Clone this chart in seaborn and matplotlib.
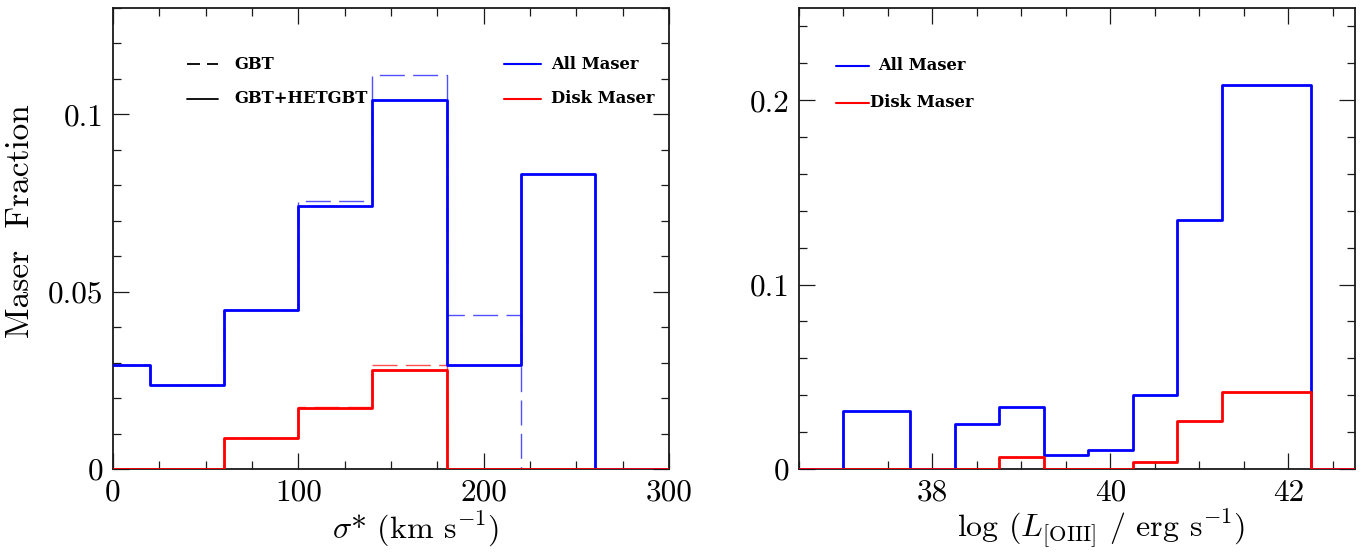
import numpy as np
import pandas as pd
import matplotlib
matplotlib.use("Agg")
import matplotlib.pyplot as plt
import seaborn as sns
from matplotlib.ticker import MultipleLocator, FuncFormatter

sns.set_theme(style="ticks")
plt.rcParams["font.family"] = ["cmr10", "DejaVu Serif"]
plt.rcParams["mathtext.fontset"] = "cm"
plt.rcParams["axes.formatter.use_mathtext"] = True

blue = "#0000ff"
red = "#ff0000"
blue_light = "#5050ff"
red_light = "#ff5050"
frame = "#1a1a1a"

# left panel: maser fraction vs stellar velocity dispersion (km/s)
sigma_edges = [-20, 20, 60, 100, 140, 180, 220, 260, 300]
sigma_all_gbt = [0.0293, 0.0236, 0.0447, 0.0757, 0.1110, 0.0433, 0.0, 0.0]
sigma_all_comb = [0.0293, 0.0236, 0.0447, 0.0742, 0.1041, 0.0293, 0.0833, 0.0]
sigma_disk_gbt = [0.0, 0.0, 0.0088, 0.0174, 0.0294, 0.0, 0.0, 0.0]
sigma_disk_comb = [0.0, 0.0, 0.0088, 0.0172, 0.0278, 0.0, 0.0, 0.0]

# right panel: maser fraction vs log L[OIII]
lum_edges = [36.5, 37.0, 37.75, 38.25, 38.75, 39.25, 39.75, 40.25, 40.75, 41.25, 42.25, 42.75]
lum_all = [0.0, 0.0314, 0.0, 0.0245, 0.0335, 0.0077, 0.0103, 0.0404, 0.1352, 0.2082, 0.0]
lum_disk = [0.0, 0.0, 0.0, 0.0, 0.0067, 0.0, 0.0, 0.0038, 0.0259, 0.0418, 0.0]


def step_hist(ax, edges, values, color, lw, ls="-", zorder=2):
    e = np.asarray(edges, dtype=float)
    centers = (e[:-1] + e[1:]) / 2
    df = pd.DataFrame({"x": centers, "w": values})
    sns.histplot(data=df, x="x", weights="w", bins=list(edges), element="step",
                 fill=False, color=color, linewidth=lw, linestyle=ls,
                 zorder=zorder, ax=ax)


def style_axes(ax):
    for sp in ax.spines.values():
        sp.set_color(frame)
        sp.set_linewidth(1.3)
    ax.tick_params(which="both", direction="in", top=True, right=True,
                   color=frame, labelsize=22.5, labelcolor="black")
    ax.tick_params(which="major", length=11.5, width=0.9, pad=7)
    ax.tick_params(which="minor", length=5.8, width=0.9)
    ax.yaxis.set_major_formatter(FuncFormatter(lambda v, p: "%g" % v))
    ax.xaxis.set_major_formatter(FuncFormatter(lambda v, p: "%g" % v))


fig = plt.figure(figsize=(13.72, 5.52), dpi=100)
ax1 = fig.add_axes([113 / 1372, 83 / 552, 556 / 1372, 461 / 552])
ax2 = fig.add_axes([799 / 1372, 83 / 552, 556 / 1372, 461 / 552])

dash_long = (0, (18, 6))

# left panel
step_hist(ax1, sigma_edges, sigma_all_gbt, blue_light, 1.0, dash_long, zorder=2)
step_hist(ax1, sigma_edges, sigma_disk_gbt, red_light, 1.0, dash_long, zorder=2)
step_hist(ax1, sigma_edges, sigma_all_comb, blue, 2.0, zorder=3)
step_hist(ax1, sigma_edges, sigma_disk_comb, red, 2.0, zorder=4)

ax1.set_xlim(0, 300)
ax1.set_ylim(0, 0.13)
ax1.xaxis.set_major_locator(MultipleLocator(100))
ax1.xaxis.set_minor_locator(MultipleLocator(25))
ax1.yaxis.set_major_locator(MultipleLocator(0.05))
ax1.yaxis.set_minor_locator(MultipleLocator(0.01))
style_axes(ax1)
ax1.set_xlabel(r"$\sigma$* (km s$^{-1}$)", fontsize=23, color="black")
ax1.set_ylabel("Maser  Fraction", fontsize=24, color="black")
ax1.xaxis.set_label_coords(0.545, -0.132)
ax1.xaxis.label.set_va("center")
ax1.yaxis.set_label_coords(-0.166, 0.538)
ax1.yaxis.label.set_va("center")

leg_font = dict(fontsize=11.8, fontweight="bold", family="DejaVu Serif",
                color="black", va="center", ha="left", transform=ax1.transAxes)
ax1.plot([0.133, 0.189], [0.8785, 0.8785], color="black", lw=1.3,
         ls=(0, (7.2, 3.9)), transform=ax1.transAxes)
ax1.text(0.219, 0.8785, "GBT", **leg_font)
ax1.plot([0.133, 0.189], [0.8035, 0.8035], color="black", lw=1.3,
         transform=ax1.transAxes)
ax1.text(0.219, 0.8035, "GBT+HETGBT", **leg_font)
ax1.plot([0.703, 0.770], [0.8785, 0.8785], color=blue, lw=1.5,
         transform=ax1.transAxes)
ax1.text(0.788, 0.8785, "All Maser", **leg_font)
ax1.plot([0.703, 0.770], [0.8035, 0.8035], color=red, lw=1.5,
         transform=ax1.transAxes)
ax1.text(0.788, 0.8035, "Disk Maser", **leg_font)

# right panel
step_hist(ax2, lum_edges, lum_all, blue, 2.0, zorder=3)
step_hist(ax2, lum_edges, lum_disk, red, 2.0, zorder=4)

ax2.set_xlim(36.5, 42.75)
ax2.set_ylim(0, 0.25)
ax2.xaxis.set_major_locator(MultipleLocator(2))
ax2.xaxis.set_minor_locator(MultipleLocator(0.5))
ax2.yaxis.set_major_locator(MultipleLocator(0.1))
ax2.yaxis.set_minor_locator(MultipleLocator(0.02))
style_axes(ax2)
ax2.set_ylabel("")
ax2.set_xlabel(r"log ($L_{\rm [OIII]}$ / erg s$^{-1}$)", fontsize=23, color="black")
ax2.xaxis.set_label_coords(0.543, -0.132)
ax2.xaxis.label.set_va("center")

leg_font2 = dict(leg_font, transform=ax2.transAxes)
ax2.plot([0.0665, 0.126], [0.875, 0.875], color=blue, lw=1.5,
         transform=ax2.transAxes)
ax2.text(0.142, 0.875, "All Maser", **leg_font2)
ax2.plot([0.0665, 0.126], [0.795, 0.795], color=red, lw=1.5,
         transform=ax2.transAxes)
ax2.text(0.128, 0.795, "Disk Maser", **leg_font2)

fig.savefig("out.png", dpi=100)
